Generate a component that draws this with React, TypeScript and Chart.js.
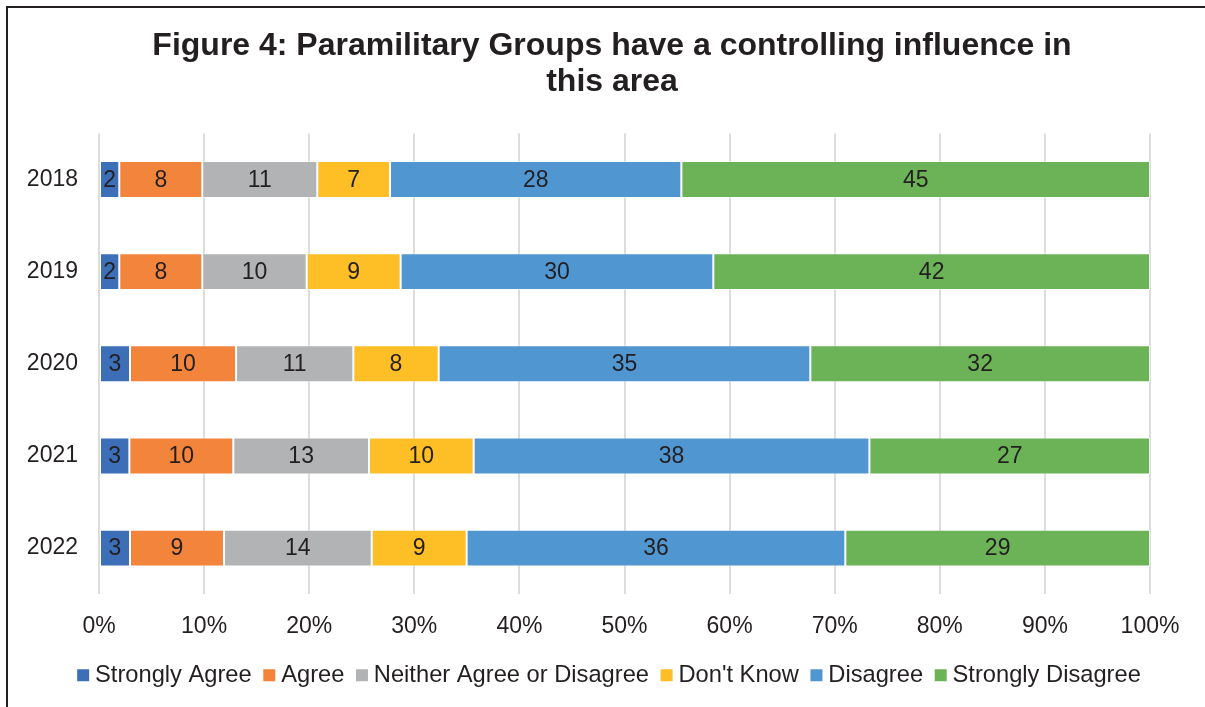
import React, { useEffect, useRef } from "react";
import { Chart, registerables } from "chart.js";

Chart.register(...registerables);

const years = ["2018", "2019", "2020", "2021", "2022"];
const stronglyAgree = [1.93, 1.93, 2.95, 2.89, 2.95];
const agree = [7.9, 7.9, 10.09, 9.89, 8.94];
const neither = [10.94, 9.93, 11.16, 12.91, 14.06];
const dontKnow = [6.92, 8.94, 8.12, 9.96, 9.03];
const disagree = [27.72, 29.75, 35.36, 37.65, 36.03];
const stronglyDisagree = [44.59, 41.55, 32.32, 26.7, 28.99];

const seriesNames = [
  "Strongly Agree",
  "Agree",
  "Neither Agree or Disagree",
  "Don't Know",
  "Disagree",
  "Strongly Disagree",
];
const seriesValues = [stronglyAgree, agree, neither, dontKnow, disagree, stronglyDisagree];
const seriesColors = ["#3d6fb8", "#f2843c", "#b1b3b4", "#fdbe26", "#5097d2", "#6cb257"];

const titleLines = ["Figure 4: Paramilitary Groups have a controlling influence in", "this area"];
const xTicks = [0, 10, 20, 30, 40, 50, 60, 70, 80, 90, 100];

const FONT = "'Liberation Sans', Arial, Helvetica, sans-serif";
const TEXT = "#231f20";

const dataLabels = {
  id: "dataLabels",
  afterDatasetsDraw(chart: any) {
    const ctx = chart.ctx;
    ctx.save();
    ctx.font = `23px ${FONT}`;
    ctx.fillStyle = TEXT;
    ctx.textAlign = "center";
    ctx.textBaseline = "middle";
    chart.data.datasets.forEach((ds: any, di: number) => {
      const meta = chart.getDatasetMeta(di);
      meta.data.forEach((el: any, i: number) => {
        const v = ds.data[i];
        const cx = (el.x + el.base) / 2;
        ctx.fillText(String(Math.round(v)), cx, el.y + 1);
      });
    });
    ctx.restore();
  },
};

export default function App() {
  const ref = useRef<HTMLCanvasElement | null>(null);
  useEffect(() => {
    if (!ref.current) return;
    const chart = new Chart(ref.current, {
      type: "bar",
      data: {
        labels: years,
        datasets: seriesNames.map((name, i) => ({
          label: name,
          data: seriesValues[i],
          backgroundColor: seriesColors[i],
          borderColor: "rgba(255,255,255,0.55)",
          borderWidth: 1,
          borderSkipped: false,
          categoryPercentage: 1,
          barPercentage: 0.4,
        })),
      },
      options: {
        indexAxis: "y",
        responsive: false,
        animation: false,
        layout: { padding: { left: 23, right: 4, top: 0, bottom: 10 } },
        scales: {
          x: {
            stacked: true,
            min: 0,
            max: 100,
            afterBuildTicks: (s: any) => {
              s.ticks = xTicks.map((v) => ({ value: v }));
            },
            afterFit: (s: any) => {
              s.height = 51.5;
              s.paddingRight = 55;
            },
            grid: { color: "#dcdcdc", lineWidth: 2, drawTicks: false },
            border: { display: false },
            ticks: {
              padding: 19,
              color: TEXT,
              font: { family: FONT, size: 23 },
              callback: (v: any) => `${v}%`,
              maxRotation: 0,
            },
          },
          y: {
            stacked: true,
            afterFit: (s: any) => {
              s.width = 76;
            },
            grid: { display: false, drawTicks: false },
            border: { display: false },
            ticks: {
              padding: 21,
              color: TEXT,
              font: { family: FONT, size: 23 },
            },
          },
        },
        plugins: {
          title: {
            display: true,
            text: titleLines,
            color: TEXT,
            font: { family: FONT, size: 32, weight: "bold", lineHeight: 1.1 },
            padding: { top: 29, bottom: 34 },
          },
          legend: {
            position: "bottom",
            labels: {
              usePointStyle: true,
              pointStyle: "rect",
              boxWidth: 0.01,
              boxHeight: 12,
              padding: 17.6,
              color: TEXT,
              font: { family: FONT, size: 23.7 },
              generateLabels: (c: any) =>
                Chart.defaults.plugins.legend.labels
                  .generateLabels(c)
                  .map((l: any) => ({ ...l, lineWidth: 0, pointStyle: "rect", strokeStyle: "rgba(0,0,0,0)" })),
            },
          },
          tooltip: { enabled: false },
        },
      },
      plugins: [dataLabels],
    } as any);
    return () => chart.destroy();
  }, []);

  return (
    <div style={{ position: "absolute", left: 0, top: 0, width: 1205, height: 707, background: "#fff" }}>
      <div
        style={{
          position: "absolute",
          left: 6,
          top: 6,
          right: 0,
          bottom: 0,
          borderLeft: `2px solid ${TEXT}`,
          borderTop: `2px solid ${TEXT}`,
        }}
      />
      <canvas ref={ref} width={1205} height={707} style={{ position: "absolute", left: 0, top: 0 }} />
    </div>
  );
}
